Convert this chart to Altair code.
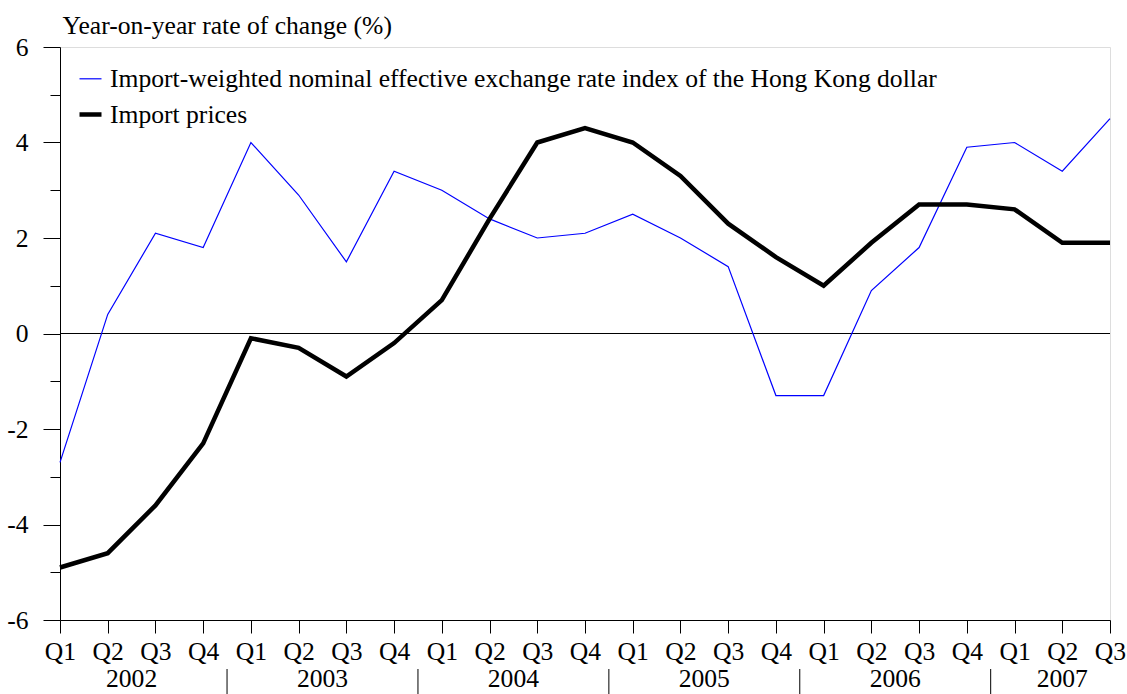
import json
import altair as alt
import pandas as pd

quarters = ["Q1", "Q2", "Q3", "Q4"] * 5 + ["Q1", "Q2", "Q3"]
years = [2002] * 4 + [2003] * 4 + [2004] * 4 + [2005] * 4 + [2006] * 4 + [2007] * 3

neer = [-2.7, 0.4, 2.1, 1.8, 4.0, 2.9, 1.5, 3.4, 3.0, 2.4, 2.0, 2.1,
        2.5, 2.0, 1.4, -1.3, -1.3, 0.9, 1.8, 3.9, 4.0, 3.4, 4.5]
import_prices = [-4.9, -4.6, -3.6, -2.3, -0.1, -0.3, -0.9, -0.2, 0.7, 2.4, 4.0, 4.3,
                 4.0, 3.3, 2.3, 1.6, 1.0, 1.9, 2.7, 2.7, 2.6, 1.9, 1.9]

s1 = "Import-weighted nominal effective exchange rate index of the Hong Kong dollar"
s2 = "Import prices"

FONT = "Liberation Serif"
FS = 25.6
W, H = 1050, 573

idx = list(range(len(quarters)))
df = pd.DataFrame({
    "i": idx * 2,
    "series": [s1] * len(idx) + [s2] * len(idx),
    "value": neer + import_prices,
})

# year labels centred under their quarters, separators between years
year_list = sorted(set(years))
year_df = pd.DataFrame({
    "year": [str(y) for y in year_list],
    "center": [sum(i for i, yy in zip(idx, years) if yy == y) / years.count(y) for y in year_list],
})
sep_df = pd.DataFrame({"pos": [years.index(y) - 0.5 for y in year_list[1:]]})

x_scale = alt.Scale(domain=[0, len(idx) - 1], nice=False, zero=False)
y_scale = alt.Scale(domain=[-6, 6], nice=False)

label_expr = json.dumps(quarters) + "[datum.value]"

x_axis = alt.Axis(
    values=idx, labelExpr=label_expr, title=None, grid=False,
    tickSize=13, tickColor="black", domainColor="black", labelColor="black",
    labelFont=FONT, labelFontSize=FS, labelPadding=6, labelFlush=False,
)
y_axis = alt.Axis(
    values=[v / 2 for v in range(-12, 13)],
    labelExpr="datum.value % 2 == 0 ? datum.value : ''",
    tickSize={"condition": {"test": "datum.value % 2 == 0", "value": 17}, "value": 10},
    grid=False, tickColor="black", domainColor="black", labelColor="black",
    labelFont=FONT, labelFontSize=FS, labelPadding=15, labelFlush=False,
    title="Year-on-year rate of change (%)", titleAngle=0, titleAlign="left",
    titleBaseline="alphabetic", titleX=2, titleY=-14, titleFont=FONT,
    titleFontSize=FS, titleFontWeight="normal", titleColor="black",
)

lines = alt.Chart(df).mark_line().encode(
    x=alt.X("i:Q", scale=x_scale, axis=x_axis),
    y=alt.Y("value:Q", scale=y_scale, axis=y_axis),
    color=alt.Color("series:N", scale=alt.Scale(domain=[s1, s2], range=["#0000ff", "#000000"]),
                    legend=alt.Legend(title=None, orient="none", legendX=17, legendY=19,
                                      symbolType="stroke", symbolSize=484, labelLimit=2000,
                                      labelFont=FONT, labelFontSize=FS, labelColor="black",
                                      rowPadding=8, labelOffset=6, padding=0)),
    strokeWidth=alt.StrokeWidth("series:N", scale=alt.Scale(domain=[s1, s2], range=[1.2, 4.5]),
                                legend=None),
    order="i:Q",
)

zero = alt.Chart(pd.DataFrame({"z": [0]})).mark_rule(color="black", strokeWidth=1).encode(
    y=alt.Y("z:Q", scale=y_scale)
)

year_text = alt.Chart(year_df).mark_text(
    font=FONT, fontSize=FS, color="black", baseline="alphabetic"
).encode(
    x=alt.X("center:Q", scale=x_scale),
    y=alt.value(H + 67),
    text="year:N",
)

seps = alt.Chart(sep_df).mark_rule(color="black", strokeWidth=1).encode(
    x=alt.X("pos:Q", scale=x_scale),
    y=alt.value(H + 49),
    y2=alt.value(H + 74),
)

chart = alt.layer(zero, lines, year_text, seps).properties(
    width=W, height=H,
    autosize=alt.AutoSizeParams(type="none"),
    padding={"left": 60, "top": 47, "right": 17, "bottom": 74},
).configure_view(stroke="black", strokeWidth=1).configure(background="white")

chart.save("out.html", embed_options={"renderer": "svg", "actions": False})
